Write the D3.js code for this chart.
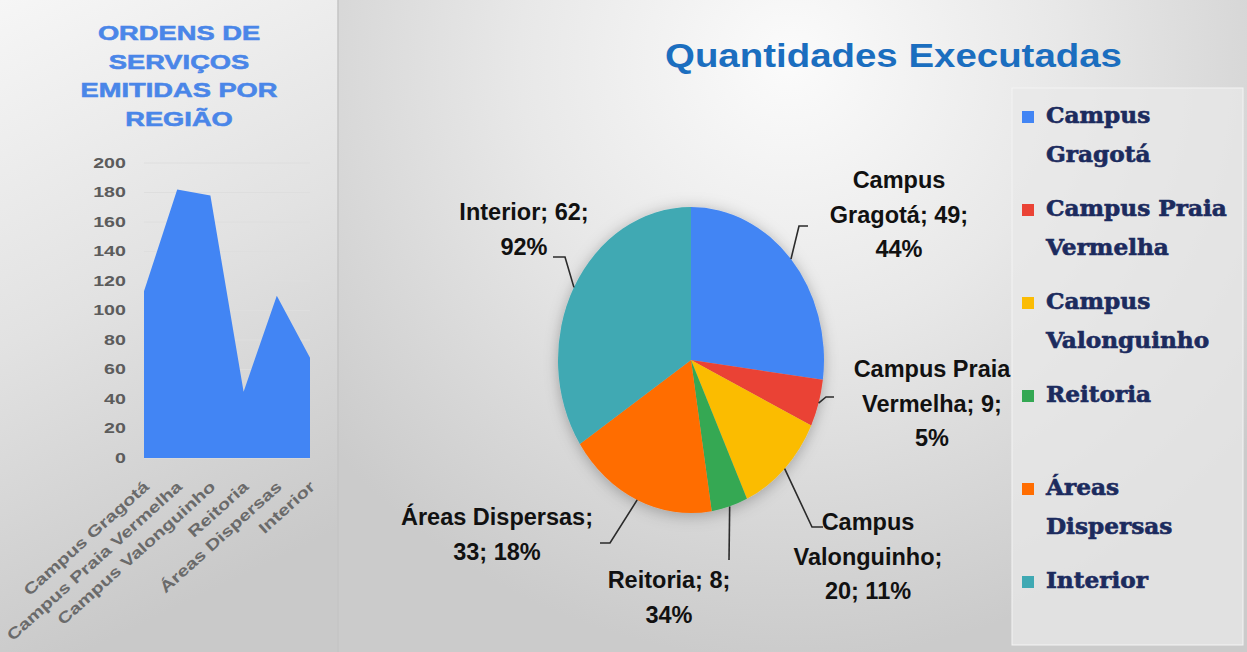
<!DOCTYPE html>
<html><head><meta charset="utf-8">
<script src="https://cdn.jsdelivr.net/npm/d3@7/dist/d3.min.js"></script>
<style>html,body{margin:0;padding:0;overflow:hidden;background:#e0e0e0}</style>
</head><body>
<script>
// ---- data ----
const areaCategories = ["Campus Gragotá","Campus Praia Vermelha","Campus Valonguinho","Reitoria","Áreas Dispersas","Interior"];
const areaValues = [113, 182, 178, 45, 110, 68];
const yTicks = [0,20,40,60,80,100,120,140,160,180,200];
const leftTitleLines = ["ORDENS DE","SERVIÇOS","EMITIDAS POR","REGIÃO"];

const pieCategories = ["Campus Gragotá","Campus Praia Vermelha","Campus Valonguinho","Reitoria","Áreas Dispersas","Interior"];
const pieValues = [49, 9, 20, 8, 33, 62];
const piePercentLabels = ["44%","5%","11%","34%","18%","92%"];
const pieColors = ["#4285f4","#ea4335","#fbbc04","#34a853","#ff6d01","#3fa9b3"];
const pieTitle = "Quantidades Executadas";
const legendLines = [["Campus","Gragotá"],["Campus Praia","Vermelha"],["Campus","Valonguinho"],["Reitoria",""],["Áreas","Dispersas"],["Interior"]];

// ---- layout ----
const W = 1247, H = 652;
const svg = d3.select("body").append("svg").attr("width", W).attr("height", H);
const defs = svg.append("defs");

const rg = defs.append("radialGradient").attr("id","bgR").attr("gradientUnits","userSpaceOnUse")
  .attr("cx",790).attr("cy",60).attr("r",600);
rg.append("stop").attr("offset","0").attr("stop-color","#fbfbfb");
rg.append("stop").attr("offset","0.45").attr("stop-color","#e8e8e8");
rg.append("stop").attr("offset","1").attr("stop-color","#cbcbcb");
svg.append("rect").attr("width",W).attr("height",H).attr("fill","url(#bgR)");

const lg = defs.append("linearGradient").attr("id","bgL").attr("x1",0).attr("y1",0).attr("x2",0.25).attr("y2",1);
lg.append("stop").attr("offset","0").attr("stop-color","#f6f6f6");
lg.append("stop").attr("offset","0.5").attr("stop-color","#e2e2e2");
lg.append("stop").attr("offset","1").attr("stop-color","#c9c9c9");
svg.append("rect").attr("x",0).attr("y",0).attr("width",338).attr("height",H).attr("fill","url(#bgL)");
svg.append("line").attr("x1",338).attr("x2",338).attr("y1",0).attr("y2",H).attr("stroke","#c4c4c4").attr("stroke-width",1.5);

// ---- left: area chart ----
const left = svg.append("g");
const SX = 1.3;
left.selectAll("text.lt").data(leftTitleLines).join("text")
  .attr("transform",(d,i)=>`translate(179,${40 + i*28.7}) scale(${SX},1)`)
  .attr("text-anchor","middle")
  .attr("font-family","Liberation Sans, Arial, sans-serif").attr("font-weight","bold")
  .attr("font-size",21).attr("fill","#4a86e8")
  .attr("stroke","#4a86e8").attr("stroke-width",0.6).text(d=>d);

const x = d3.scalePoint().domain(areaCategories).range([144, 310]);
const y = d3.scaleLinear().domain([0,200]).range([458, 163]);

left.append("g").selectAll("line").data(yTicks).join("line")
  .attr("x1",144).attr("x2",310).attr("y1",d=>y(d)).attr("y2",d=>y(d))
  .attr("stroke","#dedede").attr("stroke-width",1);

const area = d3.area().x((d,i)=>x(areaCategories[i])).y0(y(0)).y1(d=>y(d));
left.append("path").datum(areaValues).attr("d",area).attr("fill","#4285f4");

const yAxis = left.append("g").attr("transform","translate(144,0)")
  .call(d3.axisLeft(y).tickValues(yTicks).tickSize(0).tickPadding(13));
yAxis.select(".domain").remove();
yAxis.selectAll("text").attr("transform",`scale(1.4,1)`)
  .attr("font-family","Liberation Sans, Arial, sans-serif").attr("font-weight","bold")
  .attr("font-size",14).attr("fill","#5c5c5c");

left.append("g").selectAll("text").data(areaCategories).join("text")
  .attr("transform",d=>`translate(${x(d)+6},488) rotate(-42) scale(${SX},1)`)
  .attr("text-anchor","end")
  .attr("font-family","Liberation Sans, Arial, sans-serif").attr("font-weight","bold")
  .attr("font-size",15.5).attr("fill","#6a6a6a").text(d=>d);

// ---- right: pie ----
svg.append("text").attr("x",665).attr("y",67).attr("textLength",457).attr("lengthAdjust","spacingAndGlyphs")
  .attr("font-family","Liberation Sans, Arial, sans-serif").attr("font-weight","bold")
  .attr("font-size",34).attr("fill","#1b6ebf").text(pieTitle);

const f = defs.append("filter").attr("id","sh").attr("x","-20%").attr("y","-20%").attr("width","140%").attr("height","140%");
f.append("feDropShadow").attr("dx",0).attr("dy",2).attr("stdDeviation",7).attr("flood-color","#000").attr("flood-opacity",0.28);

const cx = 691, cy = 360, rx = 133, ry = 153;
const pie = d3.pie().sort(null).value(d=>d);
const arcs = pie(pieValues);
const arc = d3.arc().innerRadius(0).outerRadius(rx);
const pg = svg.append("g").attr("transform",`translate(${cx},${cy}) scale(1,${ry/rx})`).attr("filter","url(#sh)");
pg.selectAll("path").data(arcs).join("path").attr("d",arc).attr("fill",(d,i)=>pieColors[i]);

// label layout (elbow point, end point, text center x, first baseline, line list)
const labelLayout = [
  {elbow:[799,226], end:[808,226], tx:899, ty:188, lines:["Campus","Gragotá; 49;"], tail:"pct"},
  {elbow:[826,397], end:[834,397], tx:932, ty:377, lines:["Campus Praia","Vermelha; 9;"], tail:"pct"},
  {elbow:[812,527], end:[823,527], tx:868, ty:530, lines:["Campus","Valonguinho;"], tail:"both"},
  {elbow:[729,560], end:[729,560], tx:669, ty:588, lines:["Reitoria; 8;"], tail:"pct"},
  {elbow:[610,543], end:[600,543], tx:497, ty:525, lines:["Áreas Dispersas;"], tail:"both"},
  {elbow:[565,257], end:[553,257], tx:524, ty:220, lines:["Interior; 62;"], tail:"pct"}
];
const lab = svg.append("g");
arcs.forEach((a,i)=>{
  const m = (a.startAngle + a.endAngle)/2;
  const sx = cx + rx*Math.sin(m), sy = cy - ry*Math.cos(m);
  const Lo = labelLayout[i];
  lab.append("path").attr("d",`M${sx},${sy}L${Lo.elbow[0]},${Lo.elbow[1]}L${Lo.end[0]},${Lo.end[1]}`)
    .attr("fill","none").attr("stroke","#2b2b2b").attr("stroke-width",1.6);
  const t = lab.append("text").attr("text-anchor","middle")
    .attr("font-family","Liberation Sans, Arial, sans-serif").attr("font-weight","bold")
    .attr("font-size",23.5).attr("fill","#111");
  const L = Lo.lines.concat([Lo.tail==="pct" ? piePercentLabels[i] : pieValues[i] + "; " + piePercentLabels[i]]);
  L.forEach((s,k)=>{
    t.append("tspan").attr("x",Lo.tx).attr("y",Lo.ty + k*34.5).text(s);
  });
});

// ---- legend ----
svg.append("rect").attr("x",1012).attr("y",88).attr("width",231).attr("height",557)
  .attr("fill","#e8e8e8").attr("fill-opacity",0.75).attr("stroke","#f4f4f4").attr("stroke-width",1);
const leg = svg.append("g");
let yy = 123;
legendLines.forEach((lines,i)=>{
  leg.append("rect").attr("x",1022).attr("y",yy-12).attr("width",12).attr("height",12).attr("fill",pieColors[i]);
  lines.forEach((s,k)=>{
    leg.append("text").attr("transform",`translate(1046,${yy + k*39}) scale(1.08,1)`)
      .attr("font-family","DejaVu Serif, serif").attr("font-weight","bold")
      .attr("font-size",21.5).attr("fill","#1c2b5e")
      .attr("stroke","#1c2b5e").attr("stroke-width",0.6).text(s);
  });
  yy += lines.length*39 + 15;
});
</script>
</body></html>
